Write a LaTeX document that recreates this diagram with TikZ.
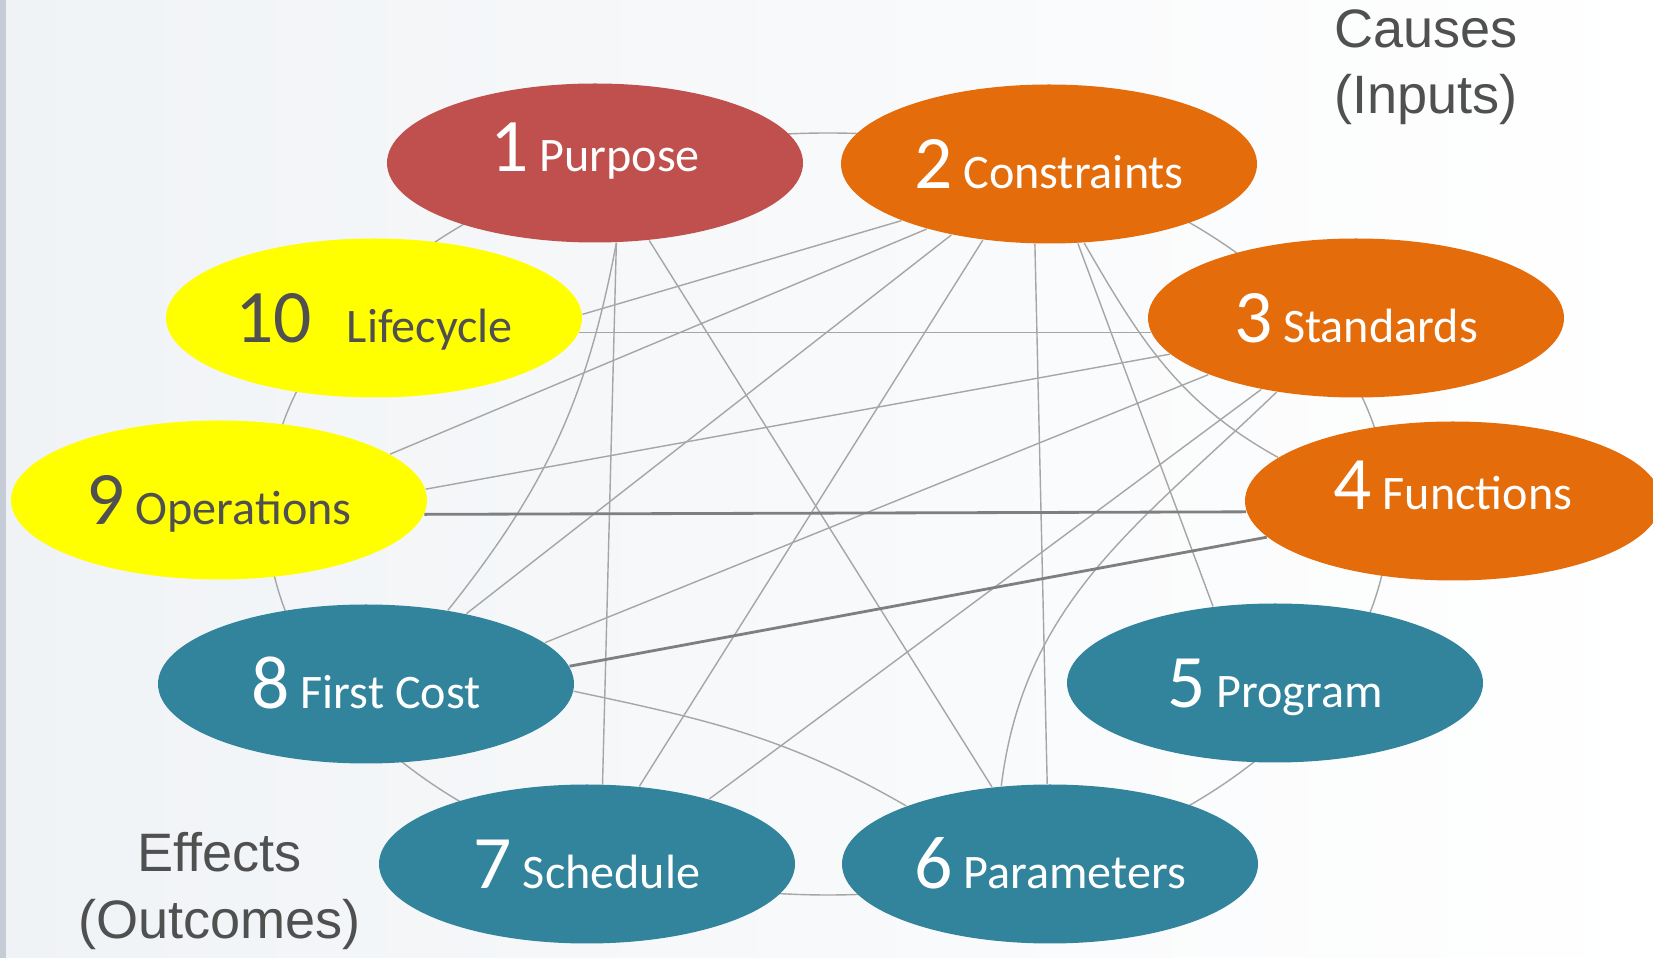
\documentclass[tikz,border=0pt]{standalone}
\usepackage{fontspec}
\setmainfont{Carlito}
\newfontfamily\arialfont{Liberation Sans}
\usetikzlibrary{shapes.geometric,backgrounds}
\definecolor{purposered}{HTML}{C0504D}
\definecolor{causeorange}{HTML}{E46C0A}
\definecolor{effectteal}{HTML}{31849B}
\definecolor{lifeyellow}{HTML}{FFFF00}
\definecolor{darktext}{HTML}{505050}
\definecolor{linkgray}{HTML}{A6A6A6}
\definecolor{stronggray}{HTML}{7F7F7F}
\definecolor{bgtint}{HTML}{F0F3F6}
\definecolor{edgestrip}{HTML}{C5CCD6}
\newcommand{\lbl}[3][]{{\fontsize{21.5}{24}\selectfont #2}#1\ #3}

\begin{document}
\begin{tikzpicture}[
  bubble/.style={ellipse,minimum width=4.16cm,minimum height=1.59cm,inner sep=0pt,
    text height=0.55cm,text depth=0.05cm,font=\fontsize{13.7}{16}\selectfont,text=white},
  raised/.style={text height=0.50cm,text depth=0.32cm},
  link/.style={linkgray,line width=0.4pt},
  strong/.style={stronggray,line width=0.8pt},
  caption/.style={align=center,text=darktext,font=\arialfont\fontsize{15.4}{18.8}\selectfont}]
\useasboundingbox (0,0) rectangle (16.53,9.58);
\node[bubble,raised,fill=purposered] (n1) at (5.95,7.95) {\lbl{1}{Purpose}};
\node[bubble,fill=causeorange] (n2) at (10.49,7.94) {\lbl{2}{Constraints}};
\node[bubble,fill=causeorange] (n3) at (13.56,6.40) {\lbl{3}{Standards}};
\node[bubble,raised,fill=causeorange] (n4) at (14.53,4.57) {\lbl{4}{Functions}};
\node[bubble,fill=effectteal] (n5) at (12.75,2.75) {\lbl{5}{Program}};
\node[bubble,fill=effectteal] (n6) at (10.50,0.94) {\lbl{6}{Parameters}};
\node[bubble,fill=effectteal] (n7) at (5.87,0.94) {\lbl{7}{Schedule}};
\node[bubble,fill=effectteal] (n8) at (3.66,2.74) {\lbl{8}{First Cost}};
\node[bubble,fill=lifeyellow,text=darktext] (n9) at (2.19,4.58) {\lbl{9}{Operations}};
\node[bubble,fill=lifeyellow,text=darktext] (n10) at (3.74,6.40) {\lbl[\enskip]{10}{Lifecycle}};
\node[caption] (causes) at (14.26,8.91) {Causes\\(Inputs)};
\node[caption] (effects) at (2.195,0.67) {Effects\\(Outcomes)};
\coordinate (ringc) at (8.28,4.44);
\begin{scope}[on background layer]
\fill[left color=bgtint,right color=white] (0,0) rectangle (16.53,9.58);
\fill[edgestrip] (0,0) rectangle (0.06,9.58);
\draw[link] (ringc) ellipse [x radius=5.61,y radius=3.81];
\draw[link] (n1.-55) -- (n6.127);
\draw[link] (n1.-75) -- (n7.79);
\draw[link] (n1.-75) to[bend left=14] (n8.42);
\draw[link] (n2.-159) -- (n10.1);
\draw[link] (n2.-152) -- (n9.15);
\draw[link] (n2.-144) -- (n8.35);
\draw[link] (n2.-131) -- (n7.56);
\draw[link] (n2.-100) -- (n6.92);
\draw[link] (n2.-70) -- (n5.129);
\draw[link] (n2.-66) to[out=-60,in=151] (n4.166);
\draw[link] (n3.-176) -- (n10.-4);
\draw[link] (n3.-169) -- (n9.3);
\draw[link] (n3.-159) -- (n8.13);
\draw[link] (n3.-143) -- (n7.28);
\draw[link] (n3.-137) to[out=-136,in=83] (n6.122);
\draw[strong] (n4.-177) -- (n9.-4);
\draw[strong] (n4.-169) -- (n8.5);
\draw[link] (n8.-2) to[out=-12,in=150] (n6.158);
\end{scope}
\end{tikzpicture}
\end{document}
